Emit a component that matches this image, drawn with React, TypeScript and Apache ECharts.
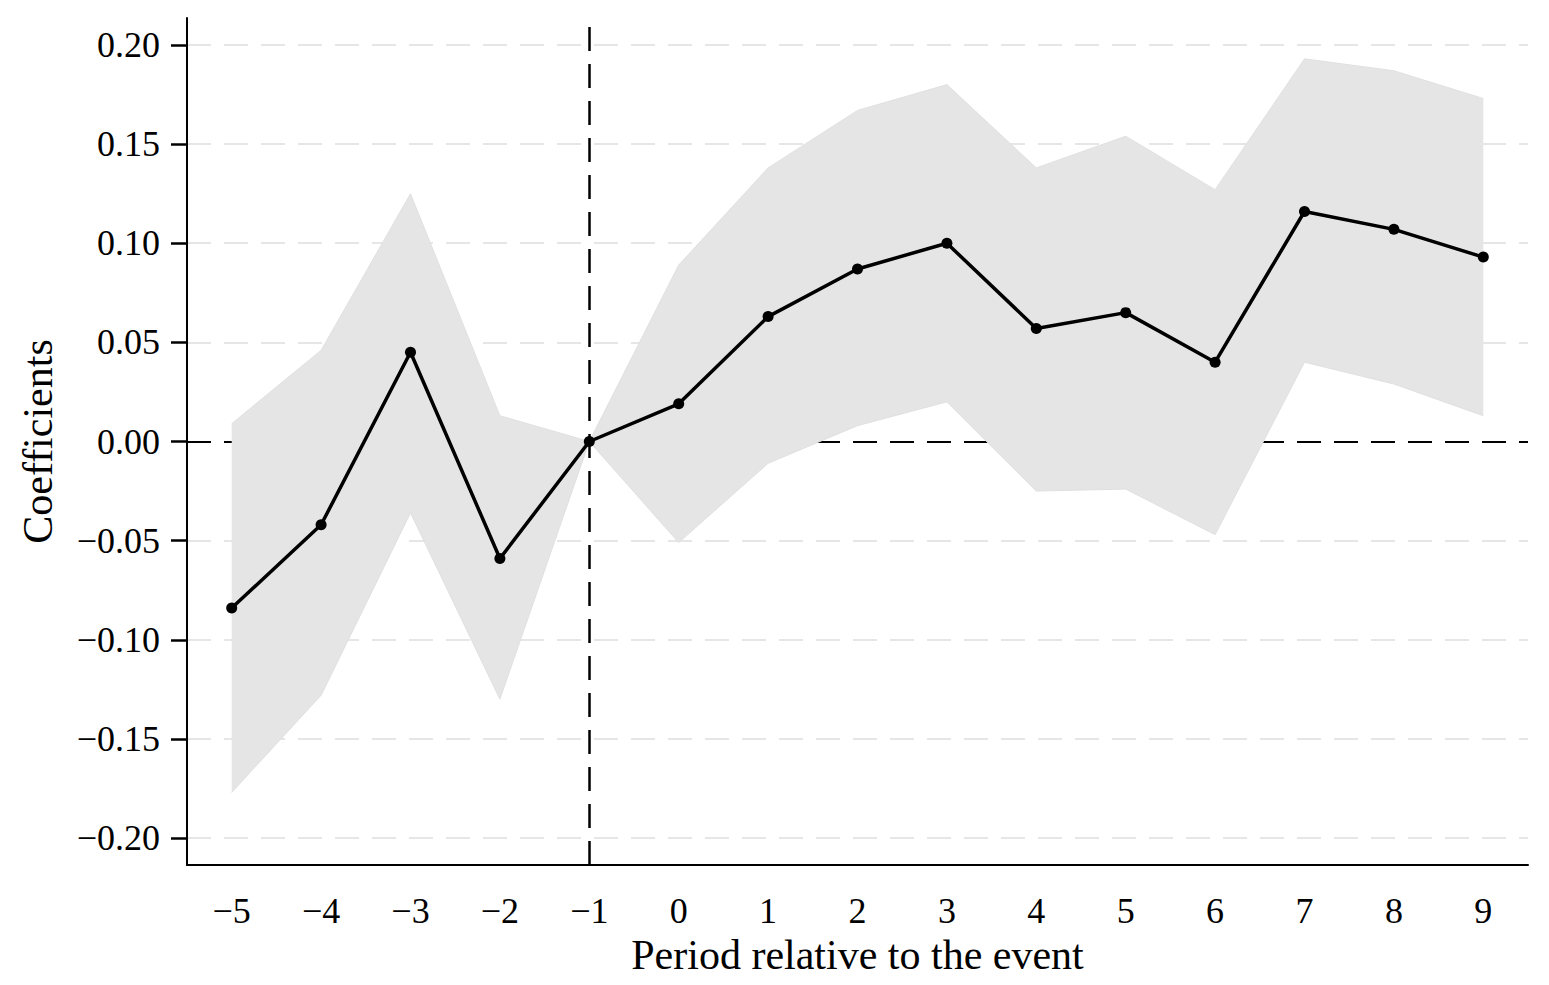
import React, { useEffect, useRef } from "react";
import * as echarts from "echarts";

const periods = [-5, -4, -3, -2, -1, 0, 1, 2, 3, 4, 5, 6, 7, 8, 9];
const coefficients = [-0.084, -0.042, 0.045, -0.059, 0, 0.019, 0.063, 0.087, 0.1, 0.057, 0.065, 0.04, 0.116, 0.107, 0.093];
const upperCI = [0.009, 0.046, 0.125, 0.013, 0, 0.089, 0.138, 0.167, 0.18, 0.138, 0.154, 0.127, 0.193, 0.187, 0.173];
const lowerCI = [-0.177, -0.128, -0.036, -0.13, 0, -0.051, -0.011, 0.008, 0.02, -0.025, -0.024, -0.047, 0.04, 0.029, 0.013];
const yTicks = [-0.2, -0.15, -0.1, -0.05, 0, 0.05, 0.1, 0.15, 0.2];
const eventPeriod = -1;

const FONT = "'Liberation Serif', 'Times New Roman', serif";
const minus = (s: string) => s.replace("-", "\u2212");

export default function App() {
  const ref = useRef<HTMLDivElement>(null);
  useEffect(() => {
    if (!ref.current) return;
    const chart = echarts.init(ref.current, undefined, { renderer: "svg" });
    const cats = periods.map((p) => minus(String(p)));
    const bandWidth = upperCI.map((u, i) => u - lowerCI[i]);
    const gridColors = yTicks.map((t) => (t === 0 ? "#000000" : "#e6e6e6"));
    chart.setOption({
      animation: false,
      backgroundColor: "#ffffff",
      textStyle: { fontFamily: FONT },
      grid: { left: 187, right: 21, top: 18, bottom: 120, containLabel: false },
      xAxis: {
        type: "category",
        data: cats,
        boundaryGap: true,
        name: "Period relative to the event",
        nameLocation: "middle",
        nameGap: 68,
        nameTextStyle: { fontFamily: FONT, fontSize: 42, color: "#000" },
        axisLine: { onZero: false, lineStyle: { color: "#000", width: 2 } },
        axisTick: { alignWithLabel: true, length: 15, lineStyle: { color: "#000", width: 2.5 } },
        axisLabel: { fontFamily: FONT, fontSize: 36, color: "#000", margin: 28, interval: 0 },
        splitLine: { show: false },
      },
      yAxis: {
        type: "value",
        min: -0.2136,
        max: 0.2136,
        name: "Coefficients",
        nameLocation: "middle",
        nameGap: 128,
        nameTextStyle: { fontFamily: FONT, fontSize: 42, color: "#000" },
        axisLine: { show: true, lineStyle: { color: "#000", width: 2 } },
        axisTick: { show: true, length: 16, customValues: yTicks, lineStyle: { color: "#000", width: 2.5 } },
        axisLabel: {
          fontFamily: FONT,
          fontSize: 36,
          color: "#000",
          margin: 27,
          customValues: yTicks,
          formatter: (v: number) => minus(v.toFixed(2)),
        },
        splitLine: {
          show: true,
          lineStyle: { color: gridColors, width: 2, type: [24, 13] },
        },
      },
      series: [
        {
          type: "line",
          data: lowerCI,
          stack: "ci",
          stackStrategy: "all",
          symbol: "none",
          silent: true,
          z: 2,
          lineStyle: { color: "#e0e0e0", width: 1 },
        },
        {
          type: "line",
          data: bandWidth,
          stack: "ci",
          stackStrategy: "all",
          symbol: "none",
          silent: true,
          z: 2,
          lineStyle: { color: "#e0e0e0", width: 1 },
          areaStyle: { color: "#e5e5e5", opacity: 1 },
        },
        {
          type: "line",
          data: coefficients,
          z: 4,
          symbol: "circle",
          symbolSize: 11,
          itemStyle: { color: "#000" },
          lineStyle: { color: "#000", width: 3.5 },
          markLine: {
            silent: true,
            symbol: "none",
            label: { show: false },
            data: [{ xAxis: minus(String(eventPeriod)), lineStyle: { color: "#000", width: 2.5, type: [24, 13] } }],
          },
        },
      ],
    });
    return () => chart.dispose();
  }, []);
  return (
    <div
      ref={ref}
      style={{ position: "fixed", left: 0, top: 0, width: 1549, height: 985, background: "#fff" }}
    />
  );
}
